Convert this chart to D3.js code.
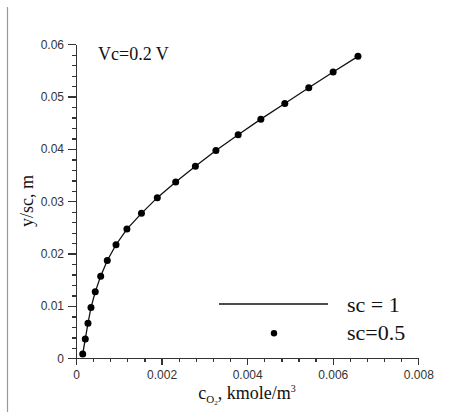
<!DOCTYPE html>
<meta charset="utf-8">
<style>
  body { margin: 0; background: #fff; }
  .axis path, .axis line { fill: none; stroke: #333; stroke-width: 1.3; shape-rendering: crispEdges; }
  .axis text { font-family: "Liberation Sans", Arial, sans-serif; font-size: 12px; fill: #333; }
  .title { font-family: "Liberation Serif", "Times New Roman", serif; fill: #111; }
</style>
<script src="https://d3js.org/d3.v7.min.js"></script>
<div id="chart"></div>
<script>
// data (x = c_O2 kmole/m3, y = y/sc m)
var cO2 = [0.000157, 0.000217, 0.00028, 0.00035, 0.00045, 0.000577, 0.000731, 0.000935,
           0.00119, 0.00153, 0.0019, 0.00233, 0.00279, 0.00327, 0.00379, 0.00432,
           0.00488, 0.00544, 0.00601, 0.00659];
var yPos = [0.0008, 0.0037, 0.0067, 0.0097, 0.0127, 0.0157, 0.0187, 0.0217, 0.0247, 0.0277,
            0.0307, 0.0337, 0.0367, 0.0397, 0.0427, 0.0457, 0.0487, 0.0517, 0.0547, 0.0577];
var xTicks = [0, 0.002, 0.004, 0.006, 0.008];
var yTicks = [0, 0.01, 0.02, 0.03, 0.04, 0.05, 0.06];
var legendLabels = ["sc = 1", "sc=0.5"];

var W = 459, H = 412;
var svg = d3.select("#chart").append("svg")
  .attr("width", W).attr("height", H);

// left page border
svg.append("line")
  .attr("x1", 7.5).attr("x2", 7.5).attr("y1", 7).attr("y2", H)
  .attr("stroke", "#999").attr("stroke-width", 1.2);

var x = d3.scaleLinear().domain([0, 0.008]).range([76, 418.3]);
var y = d3.scaleLinear().domain([0, 0.06]).range([358.3, 44.3]);

// minor ticks
svg.append("g").attr("class", "axis")
  .attr("transform", "translate(0," + y(0) + ")")
  .call(d3.axisBottom(x).tickValues(d3.range(0, 0.00801, 0.0004)).tickSize(4).tickFormat(""))
  .select(".domain").remove();
svg.append("g").attr("class", "axis")
  .attr("transform", "translate(" + x(0) + ",0)")
  .call(d3.axisLeft(y).tickValues(d3.range(0, 0.0601, 0.002)).tickSize(4).tickFormat(""))
  .select(".domain").remove();

// major ticks
svg.append("g").attr("class", "axis")
  .attr("transform", "translate(0," + y(0) + ")")
  .call(d3.axisBottom(x).tickValues(xTicks).tickSizeInner(7).tickSizeOuter(0).tickPadding(5)
    .tickFormat(function(d) { return d === 0 ? "0" : d3.format(".3f")(d); }));
svg.append("g").attr("class", "axis")
  .attr("transform", "translate(" + x(0) + ",0)")
  .call(d3.axisLeft(y).tickValues(yTicks).tickSizeInner(8).tickSizeOuter(0).tickPadding(4)
    .tickFormat(function(d) { return d === 0 ? "0" : d3.format(".2f")(d); }));

var pts = cO2.map(function(c, i) { return [c, yPos[i]]; });

svg.append("path")
  .datum(pts)
  .attr("fill", "none")
  .attr("stroke", "#111")
  .attr("stroke-width", 1.3)
  .attr("d", d3.line().x(function(d) { return x(d[0]); }).y(function(d) { return y(d[1]); }));

svg.selectAll(".dot")
  .data(pts)
  .enter().append("circle")
  .attr("class", "dot")
  .attr("cx", function(d) { return x(d[0]); })
  .attr("cy", function(d) { return y(d[1]); })
  .attr("r", 3.5)
  .attr("fill", "#000");

// annotation
svg.append("text").attr("class", "title")
  .attr("x", 98).attr("y", 60)
  .style("font-size", "18px")
  .text("Vc=0.2 V");

// axis titles
var xt = svg.append("text").attr("class", "title")
  .attr("x", 247).attr("y", 399)
  .attr("text-anchor", "middle")
  .style("font-size", "18px");
xt.append("tspan").text("c");
xt.append("tspan").attr("dy", 4).style("font-size", "11px").text("O");
xt.append("tspan").attr("dy", 2).style("font-size", "7px").text("2");
xt.append("tspan").attr("dy", -6).text(", kmole/m");
xt.append("tspan").attr("dy", -7).style("font-size", "10px").text("3");

svg.append("text").attr("class", "title")
  .attr("transform", "translate(33,201) rotate(-90)")
  .attr("text-anchor", "middle")
  .style("font-size", "18px")
  .text("y/sc, m");

// legend
var lg = svg.append("g");
lg.append("line")
  .attr("x1", 219).attr("x2", 328).attr("y1", 304).attr("y2", 304)
  .attr("stroke", "#111").attr("stroke-width", 1.3);
lg.append("circle").attr("cx", 274).attr("cy", 333.3).attr("r", 3.2).attr("fill", "#000");
lg.selectAll(".lt")
  .data(legendLabels)
  .enter().append("text")
  .attr("class", "title")
  .attr("x", 347)
  .attr("y", function(d, i) { return 311.5 + i * 28.5; })
  .style("font-size", "22px")
  .text(function(d) { return d; });
</script>
